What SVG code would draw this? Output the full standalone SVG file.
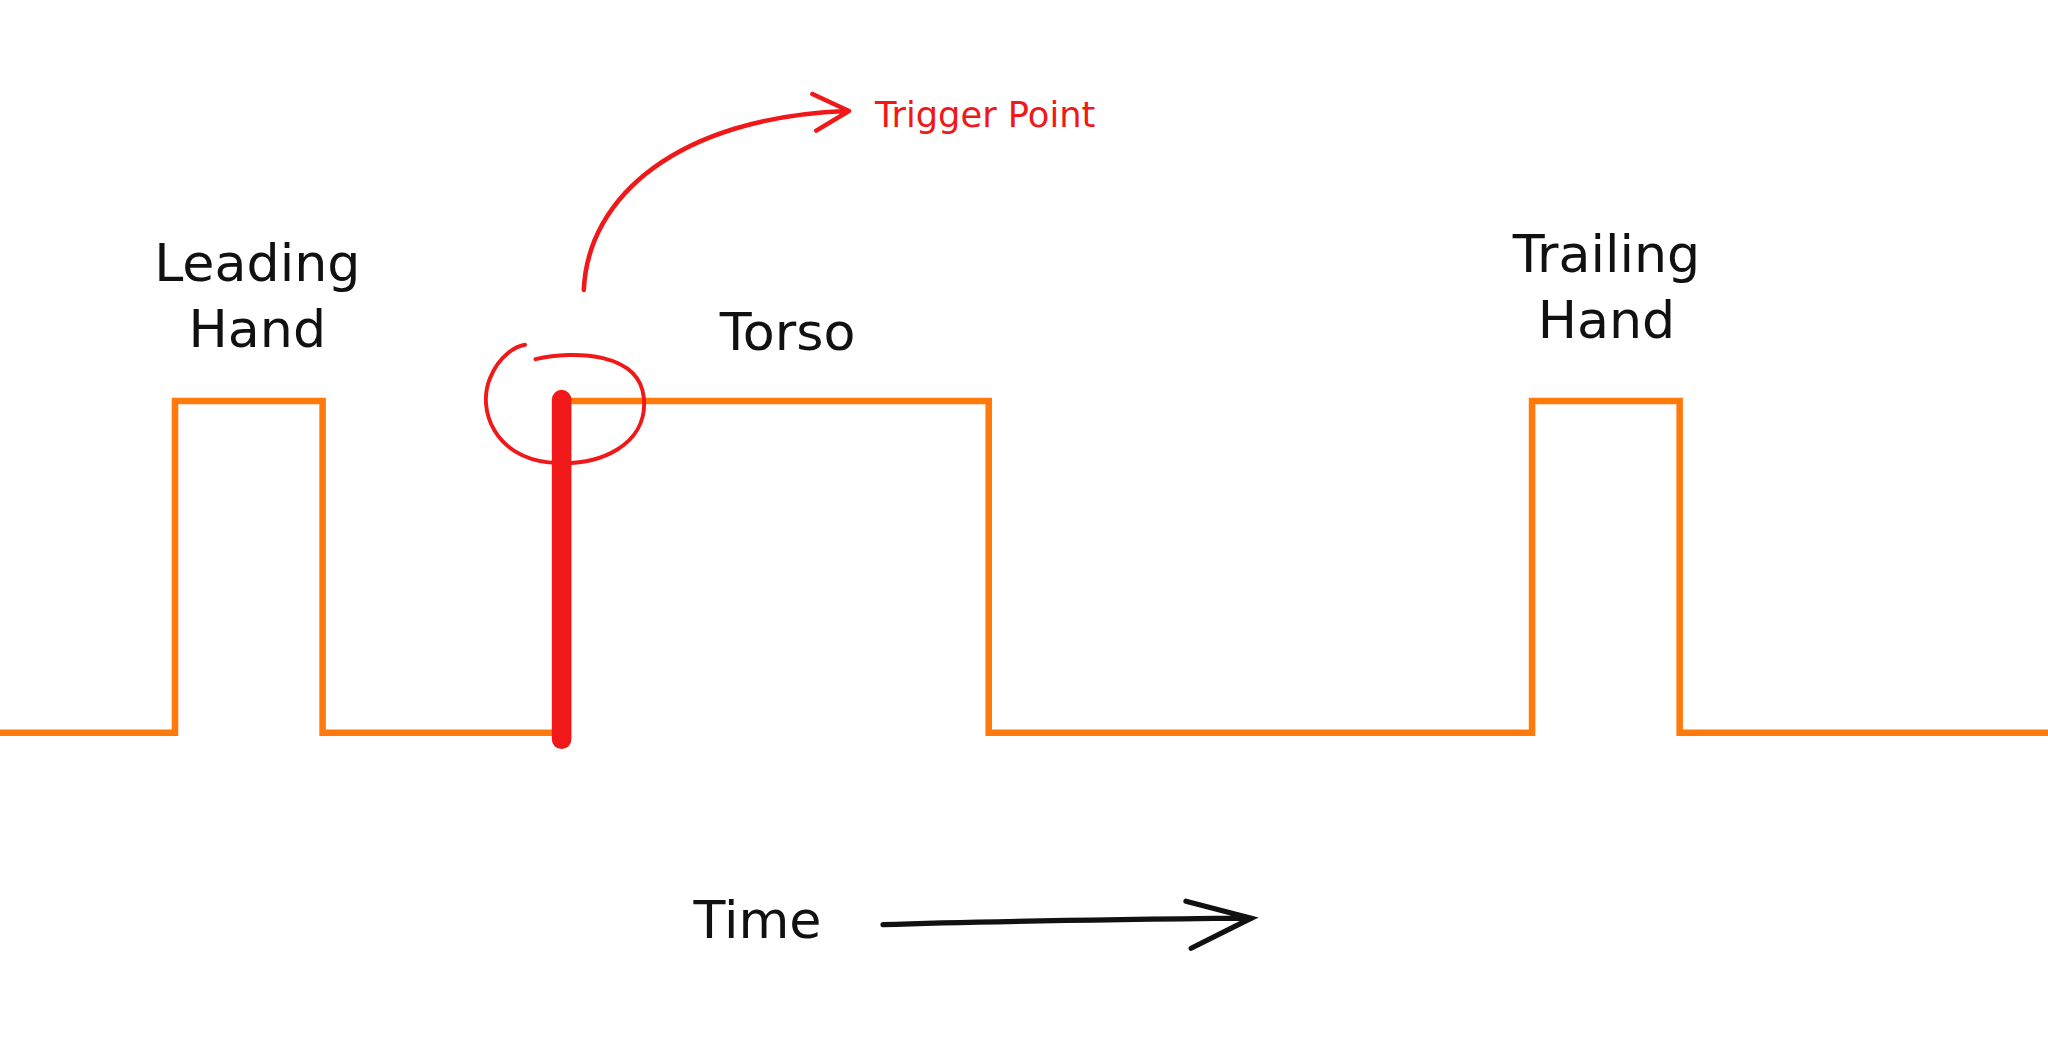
<svg xmlns="http://www.w3.org/2000/svg" width="2048" height="1044" viewBox="0 0 2048 1044">
<style>
.lbl{font-family:"Comic Sans MS","DejaVu Sans",sans-serif;font-size:40px;fill:#111;text-anchor:middle}
.red{fill:none;stroke:#f01818;stroke-linecap:round;stroke-linejoin:round}
</style>
<rect width="2048" height="1044" fill="#fff"/>
<g transform="scale(1.3061)">
<g id="connectors">
<path id="signal" d="M0,561 H134 V307 H247 V561 H430 V307 H757 V561 H1173 V307 H1286 V561 H1568" fill="none" stroke="#ff7a0a" stroke-width="5"/>
<path id="trigger-bar" class="red" d="M430,306 L430,566" stroke-width="15"/>
<path id="trigger-circle" class="red" stroke-width="3" d="M410,275 C440,268 490,270 493,305 C496,340 460,358 420,354 C380,350 365,315 375,290 C382,272 395,265 402,264"/>
<path id="trigger-arrow" class="red" stroke-width="3.5" d="M447,222 C450,150 520,90 648,85 M622,72 L650,85 L625,100"/>
<path id="time-arrow" fill="none" stroke="#111" stroke-width="4" stroke-linecap="round" d="M676,708 C760,705 860,704 958,703 M908,690 L958,703 L912,726"/>
</g>
<g id="leading-hand"><text class="lbl" x="197" y="215">Leading</text><text class="lbl" x="197" y="266">Hand</text></g>
<g id="torso"><text class="lbl" x="603" y="268">Torso</text></g>
<g id="trailing-hand"><text class="lbl" x="1230" y="208">Trailing</text><text class="lbl" x="1230" y="259">Hand</text></g>
<g id="trigger-point"><text x="670" y="97" font-family="'Comic Sans MS','DejaVu Sans',sans-serif" font-size="27" fill="#f01818">Trigger Point</text></g>
<g id="time"><text class="lbl" x="580" y="718">Time</text></g>
</g>
</svg>
